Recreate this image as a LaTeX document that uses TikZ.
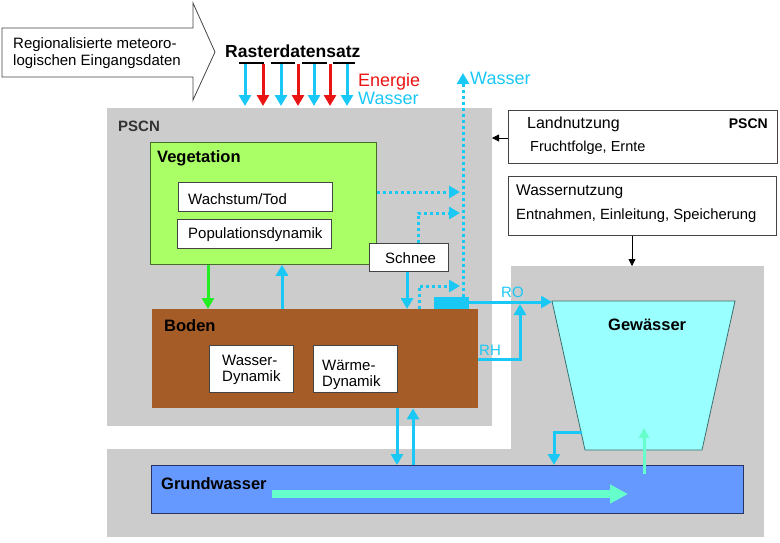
\documentclass[tikz,border=0pt]{standalone}
\usepackage{fontspec}
\setmainfont{Liberation Sans}
\usetikzlibrary{arrows.meta}
\definecolor{lblue}{RGB}{25,200,245}
\definecolor{ered}{RGB}{235,20,20}
\definecolor{pgray}{RGB}{204,204,204}
\definecolor{vgreen}{RGB}{170,255,102}
\definecolor{vgborder}{RGB}{70,110,40}
\definecolor{bbrown}{RGB}{166,92,38}
\definecolor{gfill}{RGB}{153,255,255}
\definecolor{gborder}{RGB}{60,110,110}
\definecolor{gwblue}{RGB}{102,153,255}
\definecolor{gwborder}{RGB}{40,50,100}
\definecolor{agreen}{RGB}{34,238,34}
\definecolor{mint}{RGB}{102,255,204}
\definecolor{bord}{RGB}{68,68,68}
\newcommand\myfs[2]{\fontsize{#1}{#2}\selectfont}
\begin{document}
\begin{tikzpicture}[x=1pt,y=-1pt,
  area/.style={fill=pgray,inner sep=0,outer sep=0,anchor=north west},
  bx/.style={draw=bord,line width=0.8pt,fill=white,inner sep=0,anchor=north west},
  txt/.style={inner sep=0,anchor=base west},
  bluearr/.style={draw=lblue,line width=3pt,-{Triangle[width=12pt,length=11pt]}},
  redarr/.style={draw=ered,line width=3pt,-{Triangle[width=12pt,length=11pt]}},
  dotarr/.style={draw=lblue,line width=3pt,dash pattern=on 3pt off 3pt,-{Triangle[width=12pt,length=11pt]}},
  blkarr/.style={draw=black,line width=0.8pt,-{Triangle[width=7pt,length=7pt]}},
]
\useasboundingbox (0,0) rectangle (780,542);

% grey areas
\node[area,minimum width=385,minimum height=318] (pscn) at (107,108) {};
\node[area,minimum width=657,minimum height=88] (gwgray) at (107,449) {};
\node[area,minimum width=253,minimum height=271] (gewgray) at (511,266) {};

% input arrow
\draw[bord,line width=0.8pt,fill=white] (2,28) -- (193,28) -- (193,3) -- (215,52) -- (193,100) -- (193,77) -- (2,77) -- cycle;
\node[inner sep=0,anchor=base west,align=left,font=\myfs{15}{17}] (input) at (13,65) {Regionalisierte meteoro-\\logischen Eingangsdaten};

% Rasterdatensatz
\node[txt,font=\bfseries\myfs{17.5}{20}] (raster) at (225,57) {Rasterdatensatz};
\foreach \a/\b in {239/264,271/295,302/327,333/355}
  \draw[line width=2.5pt] (\a,63) -- (\b,63);
\foreach \x in {245,281,314,347}
  \draw[bluearr] (\x,64) -- (\x,106);
\foreach \x in {263,298,330}
  \draw[redarr] (\x,64) -- (\x,106);
\node[txt,text=ered,font=\myfs{18}{20}] (energie) at (358,86) {Energie};
\node[txt,text=lblue,font=\myfs{18}{20}] (wasser1) at (358,104) {Wasser};

% PSCN label
\node[txt,text=black!80,font=\bfseries\myfs{15}{17}] (pscnlbl) at (118,131) {PSCN};

% Vegetation
\node[draw=vgborder,line width=0.8pt,fill=vgreen,inner sep=0,anchor=north west,minimum width=226,minimum height=122] (veg) at (150,142) {};
\node[txt,font=\bfseries\myfs{16.5}{18}] (veglbl) at (157,162) {Vegetation};
\node[bx,minimum width=154,minimum height=29] (wt) at (178,182) {};
\node[txt,font=\myfs{15}{17}] (wtlbl) at (188,204) {Wachstum/Tod};
\node[bx,minimum width=154,minimum height=29] (pd) at (177,219) {};
\node[txt,font=\myfs{15}{17}] (pdlbl) at (188,238) {Populationsdynamik};

% Boden
\node[fill=bbrown,inner sep=0,anchor=north west,minimum width=326,minimum height=99] (boden) at (152,309) {};
\node[txt,font=\bfseries\myfs{16.5}{18}] (bodenlbl) at (164,331) {Boden};
\node[bx,minimum width=84,minimum height=47] (wd) at (209,345) {};
\node[txt,align=left,font=\myfs{15}{16}] (wdlbl) at (222,381) {Wasser-\\Dynamik};
\node[bx,minimum width=84,minimum height=47] (hd) at (313,345) {};
\node[txt,align=left,font=\myfs{15}{16}] (hdlbl) at (322,386) {Wärme-\\Dynamik};

% Schnee
\node[bx,minimum width=79,minimum height=28] (schnee) at (369,243) {};
\node[txt,font=\myfs{15}{17}] (schneelbl) at (385,263) {Schnee};

% Landnutzung / Wassernutzung
\node[bx,minimum width=269,minimum height=53] (land) at (508,110) {};
\node[txt,font=\myfs{16}{18}] (landlbl) at (527,128) {Landnutzung};
\node[txt,anchor=base east,font=\bfseries\myfs{14}{16}] (pscn2) at (768,128) {PSCN};
\node[txt,font=\myfs{14.5}{17}] (fruchtlbl) at (530,151) {Fruchtfolge, Ernte};
\node[bx,minimum width=268,minimum height=59] (wn) at (508,176) {};
\node[txt,font=\myfs{15.5}{18}] (wnlbl) at (516,195) {Wassernutzung};
\node[txt,font=\myfs{14.8}{17}] (entlbl) at (516,219) {Entnahmen, Einleitung, Speicherung};
\draw[blkarr] (land.west |- 0,138) -- (pscn.east |- 0,138);
\draw[blkarr] (632,0 |- wn.south) -- (632,0 |- gewgray.north);

% Gewaesser
\draw[draw=gborder,line width=0.8pt,fill=gfill] (552,301) -- (735,301) -- (702,450) -- (585,450) -- cycle;
\node[txt,font=\bfseries\myfs{16.5}{18}] (gewlbl) at (608,330) {Gewässer};

% Grundwasser
\node[draw=gwborder,line width=0.8pt,fill=gwblue,inner sep=0,anchor=north west,minimum width=592,minimum height=48] (gw) at (151,465) {};
\node[txt,font=\bfseries\myfs{16.5}{18}] (gwlbl) at (161,489) {Grundwasser};
\draw[draw=mint,line width=8pt,-{Triangle[width=18pt,length=18pt]}] (272,494) -- (628,494);

% Vegetation <-> Boden
\draw[draw=agreen,line width=3pt,-{Triangle[width=12pt,length=11pt]}] (208,0 |- veg.south) -- (208,0 |- boden.north);
\draw[bluearr] (282,0 |- boden.north) -- (282,0 |- veg.south);

% runoff block and outflow
\node[fill=lblue,inner sep=0,anchor=north west,minimum width=35,minimum height=12] (ro) at (434,297) {};
\coordinate (wtop) at (463,73);
\draw[dotarr] (463,0 |- ro.north) -- (wtop);
\node[txt,text=lblue,font=\myfs{18}{20}] (wasser2) at (470,84) {Wasser};
\draw[dotarr] (veg.east |- 0,192) -- (460,192);
\draw[dotarr] (418,0 |- schnee.north) -- (418,213) -- (460,213);
\draw[bluearr] (407,0 |- schnee.south) -- (407,0 |- boden.north);
\draw[dotarr] (419,0 |- boden.north) -- (419,286) -- (460,286);
\coordinate (gtl) at (552,302);
\draw[bluearr] (ro.east |- 0,302) -- (gtl);
\node[txt,text=lblue,font=\myfs{15}{17}] (rolbl) at (501,297) {RO};
\draw[bluearr] (boden.east |- 0,359) -- (520,359) -- (520,304);
\node[txt,text=lblue,font=\myfs{15}{17}] (rhlbl) at (479,355) {RH};

% Boden <-> Grundwasser
\draw[bluearr] (397,0 |- boden.south) -- (397,0 |- gw.north);
\draw[bluearr] (413,0 |- gw.north) -- (413,0 |- boden.south);

% Gewaesser <-> Grundwasser
\draw[bluearr] (582,432) -- (554,432) -- (554,0 |- gw.north);
\draw[draw=mint,line width=3pt,-{Triangle[width=10pt,length=10pt]}] (644,474) -- (644,428);
\end{tikzpicture}
\end{document}
